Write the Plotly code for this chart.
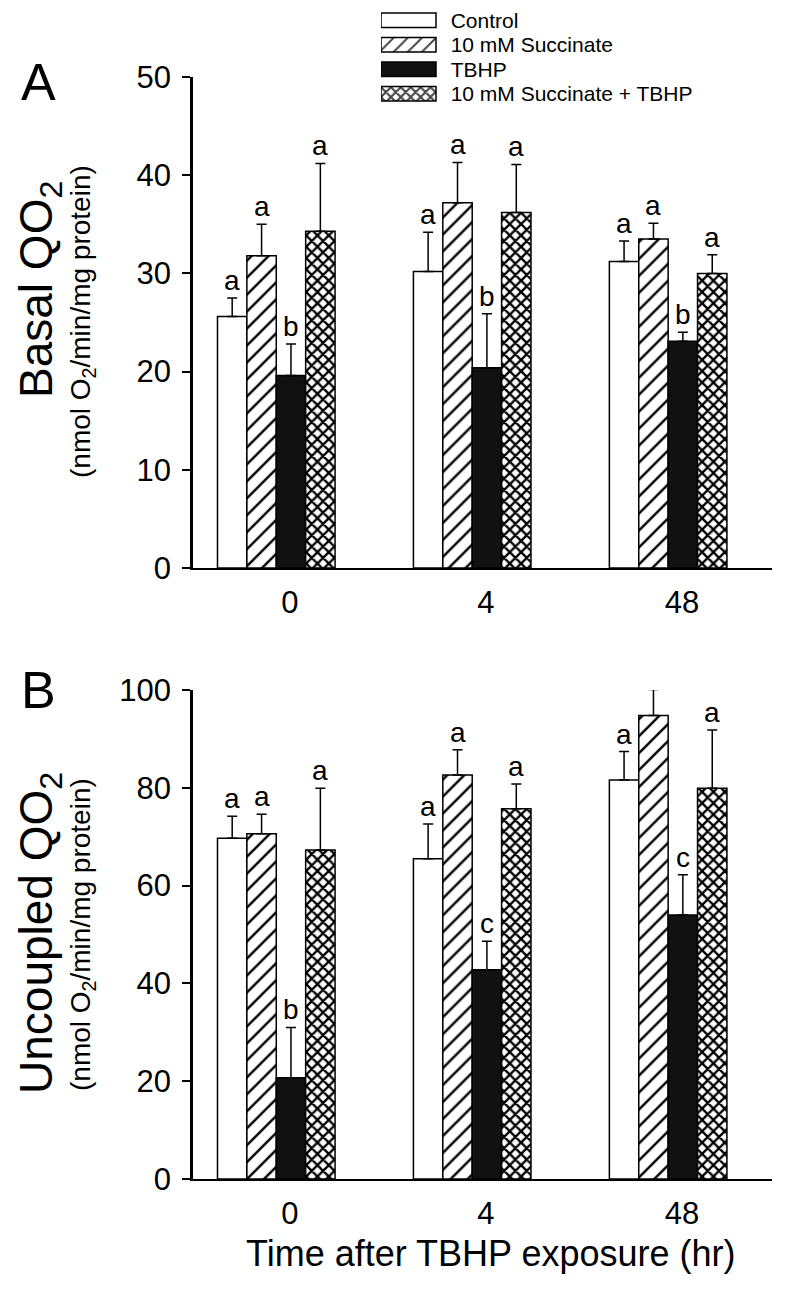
import plotly.graph_objects as go

# ---------------- data ----------------
times = ["0", "4", "48"]
series = ["Control", "10 mM Succinate", "TBHP", "10 mM Succinate + TBHP"]

basal_control = [25.6, 30.2, 31.2]
basal_succ = [31.8, 37.2, 33.5]
basal_tbhp = [19.6, 20.4, 23.1]
basal_succ_tbhp = [34.3, 36.2, 30.0]

basal_control_err = [1.9, 4.0, 2.1]
basal_succ_err = [3.2, 4.1, 1.6]
basal_tbhp_err = [3.2, 5.5, 0.9]
basal_succ_tbhp_err = [6.9, 4.9, 1.9]

basal_letters_control = ["a", "a", "a"]
basal_letters_succ = ["a", "a", "a"]
basal_letters_tbhp = ["b", "b", "b"]
basal_letters_succ_tbhp = ["a", "a", "a"]

unc_control = [69.7, 65.5, 81.6]
unc_succ = [70.6, 82.6, 94.8]
unc_tbhp = [20.7, 42.8, 54.0]
unc_succ_tbhp = [67.3, 75.7, 79.9]

unc_control_err = [4.5, 7.1, 5.8]
unc_succ_err = [4.0, 5.2, 5.3]
unc_tbhp_err = [10.3, 5.8, 8.2]
unc_succ_tbhp_err = [12.6, 5.1, 11.9]

unc_letters_control = ["a", "a", "a"]
unc_letters_succ = ["a", "a", "a"]
unc_letters_tbhp = ["b", "c", "c"]
unc_letters_succ_tbhp = ["a", "a", "a"]

# ---------------- styling ----------------
FONT = "Liberation Sans, Arial, Helvetica, sans-serif"
fills = ["white", "white", "#111111", "white"]
shapes = ["", "/", "", "x"]
psizes = [8, 12, 8, 8]
psolid = [0.2, 0.2, 0.2, 0.5]

W, H = 800, 1296
OFF = 8  # page offset of the figure inside the browser
ML, MR, MT, MB = 185, 36, 0, 125


def px_x(px):
    return (px - OFF - ML) / (W - ML - MR)


def px_y(py):
    return (H - MB - (py - OFF)) / (H - MT - MB)


positions = list(range(len(times)))
bw = 0.15

panels = [
    ("x", "y",
     [basal_control, basal_succ, basal_tbhp, basal_succ_tbhp],
     [basal_control_err, basal_succ_err, basal_tbhp_err, basal_succ_tbhp_err],
     [basal_letters_control, basal_letters_succ, basal_letters_tbhp, basal_letters_succ_tbhp]),
    ("x2", "y2",
     [unc_control, unc_succ, unc_tbhp, unc_succ_tbhp],
     [unc_control_err, unc_succ_err, unc_tbhp_err, unc_succ_tbhp_err],
     [unc_letters_control, unc_letters_succ, unc_letters_tbhp, unc_letters_succ_tbhp]),
]

fig = go.Figure()
annotations = []

for xa, ya, vals, errs, letters in panels:
    for k, name in enumerate(series):
        fig.add_trace(go.Bar(
            x=positions, y=vals[k], name=name, xaxis=xa, yaxis=ya,
            showlegend=False,
            marker=dict(
                color=fills[k],
                line=dict(color="black", width=1.5),
                pattern=dict(shape=shapes[k], fgcolor="black", bgcolor=fills[k],
                             fgopacity=1, size=psizes[k], solidity=psolid[k]),
            ),
            error_y=dict(type="data", symmetric=False, array=errs[k],
                         arrayminus=[0] * len(times), color="black",
                         thickness=1.5, width=5),
        ))
        for g in positions:
            annotations.append(dict(
                x=g + (k - 1.5) * bw, y=vals[k][g] + errs[k][g],
                xref=xa, yref=ya, text=letters[k][g], showarrow=False,
                yanchor="bottom", xanchor="center",
                font=dict(family=FONT, size=28, color="black"),
            ))

# legend built as keyed swatches
fig.add_trace(go.Bar(
    y=series, x=[1] * len(series), orientation="h", xaxis="x3", yaxis="y3",
    showlegend=False,
    marker=dict(
        color=fills,
        line=dict(color="black", width=1.5),
        pattern=dict(shape=shapes, fgcolor="black", bgcolor=fills, fgopacity=1,
                     size=[8, 10, 8, 7], solidity=[0.2, 0.2, 0.2, 0.5]),
    ),
    text=["\u00a0\u00a0" + s for s in series], textposition="outside",
    constraintext="none", cliponaxis=False,
    textfont=dict(family=FONT, size=21, color="black"),
    hoverinfo="skip",
))

xr = [-0.425, 2.53]
common_x = dict(range=xr, showline=True, linecolor="black", linewidth=2,
                ticks="", tickvals=[p + 0.07 for p in positions], ticktext=times,
                tickfont=dict(family=FONT, size=31, color="black"),
                showgrid=False, zeroline=False, ticklabelstandoff=6,
                automargin=False)
common_y = dict(showline=True, linecolor="black", linewidth=2.5, ticks="outside",
                ticklen=8, tickwidth=1.5, tickcolor="black",
                tickfont=dict(family=FONT, size=31, color="black"),
                showgrid=False, zeroline=False, ticklabelstandoff=5,
                automargin=False)


def paper_text(text, x, y, size, angle=0):
    return dict(text=text, x=px_x(x), y=px_y(y), xref="paper", yref="paper",
                xanchor="center", yanchor="middle", textangle=angle,
                showarrow=False, font=dict(family=FONT, size=size, color="black"))


annotations += [
    paper_text("A", 38, 82, 52),
    paper_text("B", 38, 690, 52),
    paper_text("Basal QO<sub>2</sub>", 39, 290, 46, -90),
    paper_text("(nmol O<sub>2</sub>/min/mg protein)", 82, 322, 28, -90),
    paper_text("Uncoupled QO<sub>2</sub>", 39, 933, 46, -90),
    paper_text("(nmol O<sub>2</sub>/min/mg protein)", 82, 935, 28, -90),
    paper_text("Time after TBHP exposure (hr)", 491, 1253, 36),
]

fig.update_layout(
    width=W, height=H,
    margin=dict(l=ML, r=MR, t=MT, b=MB, autoexpand=False),
    paper_bgcolor="white", plot_bgcolor="white",
    barmode="group", bargap=0.4, bargroupgap=0,
    font=dict(family=FONT, color="black"),
    xaxis=dict(domain=[0, 1], anchor="y", **common_x),
    yaxis=dict(domain=[px_y(568), px_y(77)], anchor="x", range=[0, 50], dtick=10, **common_y),
    xaxis2=dict(domain=[0, 1], anchor="y2", **common_x),
    yaxis2=dict(domain=[0, px_y(690)], anchor="x2", range=[0, 100], dtick=20, **common_y),
    xaxis3=dict(domain=[px_x(381), 1], anchor="y3", range=[0, (W - MR - (381 - OFF)) / 55],
                visible=False, fixedrange=True, automargin=False),
    yaxis3=dict(domain=[px_y(106), px_y(8)], anchor="x3", autorange="reversed",
                visible=False, fixedrange=True, automargin=False),
    annotations=annotations,
    showlegend=False,
)

fig.write_html("out.html")
